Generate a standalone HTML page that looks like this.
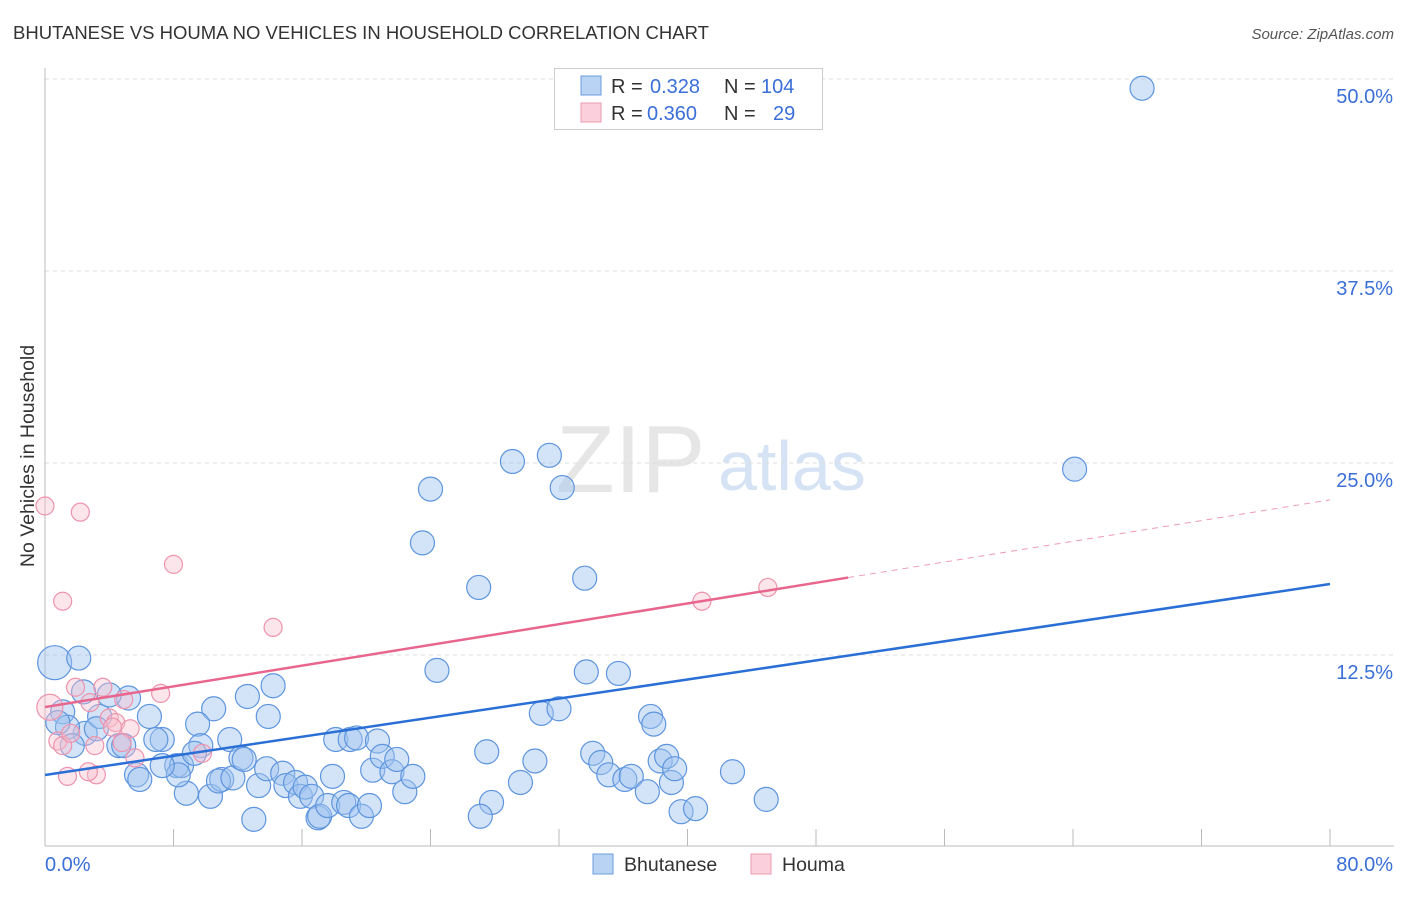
<!DOCTYPE html>
<html><head><meta charset="utf-8"><style>
body{margin:0;background:#fff;font-family:"Liberation Sans",sans-serif}
svg text{font-family:"Liberation Sans",sans-serif}
</style></head><body>
<svg id="chart" width="1406" height="892" xmlns="http://www.w3.org/2000/svg">
<text x="13" y="39" font-size="18.5" fill="#333">BHUTANESE VS HOUMA NO VEHICLES IN HOUSEHOLD CORRELATION CHART</text>
<text x="1394" y="39" font-size="15" fill="#555" font-style="italic" text-anchor="end">Source: ZipAtlas.com</text>
<text transform="translate(34,456) rotate(-90)" font-size="19.5" fill="#333" text-anchor="middle">No Vehicles in Household</text>
<g>
<text x="556" y="492" font-size="96" font-family="Liberation Serif,serif" fill="#e6e6e6">ZIP</text>
<text x="718" y="490" font-size="70" fill="#d5e3f5">atlas</text>
</g>
<g id="grid"></g><g id="axes"></g><g id="marks"></g>
<g>
<rect x="554.5" y="68.5" width="268" height="61" fill="#fff" stroke="#ccc"/>
<rect x="581" y="76" width="20" height="19" fill="#b9d3f5" stroke="#6a9de0"/>
<rect x="581" y="103" width="20" height="19" fill="#fbd0dc" stroke="#ee9ab2"/>
<text x="611" y="93" font-size="20" fill="#333">R = </text><text x="650" y="93" font-size="20" fill="#3a6fd8">0.328</text>
<text x="724" y="93" font-size="20" fill="#333">N = </text><text x="761" y="93" font-size="20" fill="#3a6fd8">104</text>
<text x="611" y="120" font-size="20" fill="#333">R = </text><text x="647" y="120" font-size="20" fill="#3a6fd8">0.360</text>
<text x="724" y="120" font-size="20" fill="#333">N = </text><text x="773" y="120" font-size="20" fill="#3a6fd8">29</text>
</g>
<g>
<rect x="593" y="854" width="20" height="20" fill="#b9d3f5" stroke="#6a9de0"/>
<text x="624" y="871" font-size="19.5" fill="#333">Bhutanese</text>
<rect x="751" y="854" width="20" height="20" fill="#fbd0dc" stroke="#ee9ab2"/>
<text x="782" y="871" font-size="19.5" fill="#333">Houma</text>
</g>
</svg>
<script>
const yTicks=[12.5,25,37.5,50];
const yTickLabels=["12.5%","25.0%","37.5%","50.0%"];
const xTickCount=10;
const xEndLabels=["0.0%","80.0%"];
const blueX=[0.6,2.1,1.1,2.4,5.2,2.5,1.4,0.8,1.7,3.4,3.2,4.6,4.9,4.0,6.5,7.3,5.7,5.9,6.9,8.2,8.5,8.8,8.3,7.3,10.5,9.5,9.7,9.3,10.3,11.0,10.8,11.7,11.5,12.2,12.4,12.6,14.2,13.9,13.0,13.3,13.8,14.8,15.0,15.6,15.9,16.2,16.6,17.0,17.1,17.6,17.9,18.1,18.6,18.9,19.0,19.4,19.7,20.2,20.4,20.7,21.0,21.6,21.9,22.4,22.9,23.5,24.0,24.4,27.0,27.5,27.8,27.1,29.1,29.6,30.5,30.9,31.4,32.0,32.2,33.6,33.7,34.1,34.6,35.1,36.1,36.5,35.7,37.5,37.7,37.9,38.3,38.7,39.0,39.2,39.6,40.5,42.8,44.9,64.1,68.3];
const blueY=[12.0,12.3,8.8,10.1,9.7,7.4,7.8,8.1,6.6,8.5,7.7,6.6,6.6,9.9,8.5,7.0,4.7,4.4,7.0,5.3,5.3,3.5,4.7,5.3,9.0,8.0,6.6,6.1,3.3,4.4,4.3,4.5,7.0,5.8,5.7,9.8,10.5,8.5,1.8,4.0,5.1,4.8,4.0,4.2,3.3,3.9,3.3,1.9,2.0,2.7,4.6,7.0,2.9,2.7,7.0,7.1,2.0,2.7,5.0,6.9,5.9,4.9,5.7,3.6,4.6,19.8,23.3,11.5,16.9,6.2,2.9,2.0,25.1,4.2,5.6,8.7,25.5,9.0,23.4,17.5,11.4,6.1,5.5,4.7,4.4,4.6,11.3,3.6,8.5,8.0,5.6,5.9,4.2,5.1,2.3,2.5,4.9,3.1,24.6,49.4];
const blueBig=[0];
const pinkX=[0,2.2,1.1,8.0,14.2,40.9,45.0,0.3,1.9,2.8,3.6,4.0,4.4,4.9,5.3,7.2,4.8,5.6,3.1,0.8,1.1,1.6,1.4,3.2,2.7,9.8,4.2];
const pinkY=[22.2,21.8,16.0,18.4,14.3,16.0,16.9,9.1,10.4,9.4,10.4,8.4,8.1,9.6,7.7,10.0,6.8,5.8,6.6,6.9,6.6,7.4,4.6,4.7,4.9,6.1,7.8];
const pinkBig=[7];
const blueTrend=[4.69,17.12];
const pinkTrend=[9.11,22.6];
const pinkSolidEnd=50;

const X0=45,X1=1330,Y0=847,PX=192/12.5;
const sx=v=>X0+v*(X1-X0)/80, sy=v=>Y0-v*PX;
const NS='http://www.w3.org/2000/svg';
function mk(tag,parent,attrs){const e=document.createElementNS(NS,tag);for(const k in attrs)e.setAttribute(k,attrs[k]);document.getElementById(parent).appendChild(e);return e;}
yTicks.forEach((t,i)=>{
  const l=mk('line','grid',{x1:45,x2:1394,y1:sy(t),y2:sy(t),stroke:'#ddd','stroke-dasharray':'4,4'});
  
  
  const tx=mk('text','grid',{x:1393,y:sy(t)+24,'font-size':20,fill:'#3a6fd8','text-anchor':'end'});
  tx.textContent=yTickLabels[i];
  
  
});
const ya=mk('line','axes',{x1:45,x2:45,y1:68,y2:846,stroke:'#bbb'});


const xa=mk('line','axes',{x1:45,x2:1394,y1:846,y2:846,stroke:'#bbb'});


for(let i=0;i<=xTickCount;i++){
  const x=sx(i*80/xTickCount);
  const t=mk('line','axes',{x1:x,x2:x,y1:829,y2:846,stroke:'#bbb'});
  
  
}
[[45,'start'],[1393,'end']].forEach((p,i)=>{
  const t=mk('text','axes',{x:p[0],y:871,'font-size':20,fill:'#3a6fd8','text-anchor':p[1]});
  t.textContent=xEndLabels[i];
  
  
});
blueX.forEach((x,i)=>{
  const c=mk('circle','marks',{cx:sx(x),cy:sy(blueY[i]),r:blueBig.includes(i)?17:12,fill:'rgba(160,196,240,0.45)',stroke:'#5e95de','stroke-width':1.2});
  
  
});
pinkX.forEach((x,i)=>{
  const c=mk('circle','marks',{cx:sx(x),cy:sy(pinkY[i]),r:pinkBig.includes(i)?13:9,fill:'rgba(248,190,206,0.4)',stroke:'#ee93ad','stroke-width':1.2});
  
  
});
const bt=mk('line','marks',{x1:sx(0),y1:sy(blueTrend[0]),x2:sx(80),y2:sy(blueTrend[1]),stroke:'#2a6fd6','stroke-width':2.5});


const pm=pinkTrend[0]+(pinkTrend[1]-pinkTrend[0])*pinkSolidEnd/80;
const pt=mk('line','marks',{x1:sx(0),y1:sy(pinkTrend[0]),x2:sx(pinkSolidEnd),y2:sy(pm),stroke:'#e8668e','stroke-width':2.5});


const pd=mk('line','marks',{x1:sx(pinkSolidEnd),y1:sy(pm),x2:sx(80),y2:sy(pinkTrend[1]),stroke:'#ee9ab2','stroke-width':1,'stroke-dasharray':'6,5'});


</script>
</body></html>
